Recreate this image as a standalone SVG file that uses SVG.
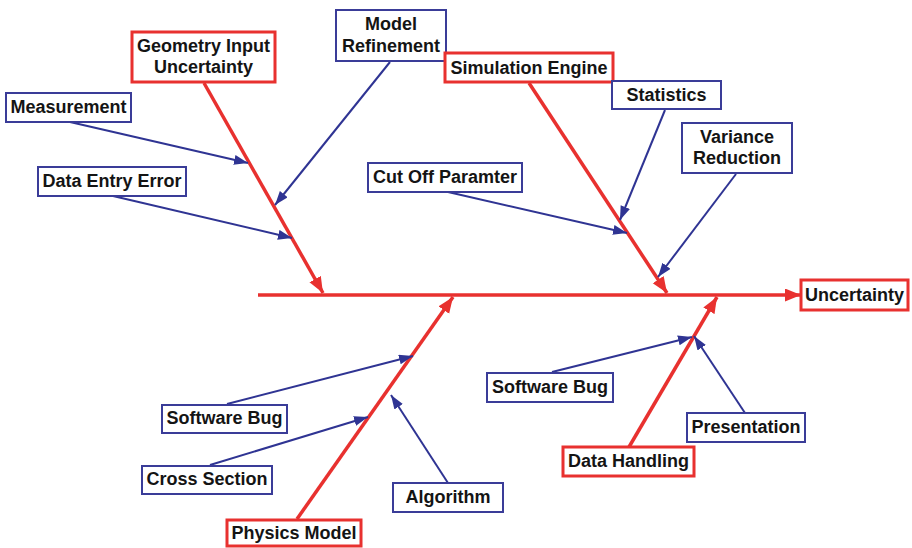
<svg xmlns="http://www.w3.org/2000/svg" width="912" height="548" viewBox="0 0 912 548">
<style>
.rbox{fill:#fff;stroke:#e8312f;stroke-width:3}
.bbox{fill:#fff;stroke:#3a3c98;stroke-width:2}
text{font-family:"Liberation Sans",Arial,sans-serif;font-weight:bold;font-size:18px;fill:#141414;text-anchor:middle}
.rl{stroke:#e8312f;stroke-width:3.5;fill:none}
.bl{stroke:#2f3493;stroke-width:2;fill:none}
</style>
<defs>
<marker id="ra" markerUnits="userSpaceOnUse" markerWidth="18" markerHeight="14" refX="16" refY="6.5" orient="auto"><path d="M0,0 L16,6.5 L0,13 z" fill="#e8312f"/></marker>
<marker id="ba" markerUnits="userSpaceOnUse" markerWidth="16" markerHeight="12" refX="14" refY="5" orient="auto"><path d="M0,0 L14,5 L0,10 z" fill="#2f3493"/></marker>
</defs>
<rect width="912" height="548" fill="#fff"/>
<g id="connectors">
<line class="rl" x1="258" y1="295" x2="801" y2="295" marker-end="url(#ra)"/>
<line class="rl" x1="204" y1="83" x2="323" y2="293" marker-end="url(#ra)"/>
<line class="rl" x1="529" y1="83" x2="667" y2="293" marker-end="url(#ra)"/>
<line class="rl" x1="297" y1="519" x2="453" y2="297" marker-end="url(#ra)"/>
<line class="rl" x1="629" y1="447" x2="717" y2="297" marker-end="url(#ra)"/>
<line class="bl" x1="70" y1="122" x2="248" y2="163" marker-end="url(#ba)"/>
<line class="bl" x1="390" y1="62" x2="275" y2="205" marker-end="url(#ba)"/>
<line class="bl" x1="113" y1="196" x2="292" y2="238" marker-end="url(#ba)"/>
<line class="bl" x1="448" y1="192" x2="627" y2="233" marker-end="url(#ba)"/>
<line class="bl" x1="665" y1="110" x2="620" y2="220" marker-end="url(#ba)"/>
<line class="bl" x1="736" y1="174" x2="658" y2="277" marker-end="url(#ba)"/>
<line class="bl" x1="227" y1="404" x2="413" y2="356" marker-end="url(#ba)"/>
<line class="bl" x1="210" y1="465" x2="368" y2="417" marker-end="url(#ba)"/>
<line class="bl" x1="448" y1="483" x2="391" y2="395" marker-end="url(#ba)"/>
<line class="bl" x1="552" y1="372" x2="692" y2="337" marker-end="url(#ba)"/>
<line class="bl" x1="745" y1="413" x2="694" y2="336" marker-end="url(#ba)"/>
</g>
<g id="geometry"><rect class="rbox" x="132" y="32" width="143" height="50"/><text x="203.5" y="52">Geometry Input</text><text x="203.5" y="73">Uncertainty</text></g>
<g id="model-refinement"><rect class="bbox" x="336" y="10" width="110" height="51"/><text x="391" y="30">Model</text><text x="391" y="52">Refinement</text></g>
<g id="measurement"><rect class="bbox" x="6" y="93" width="125" height="29"/><text x="68.5" y="113">Measurement</text></g>
<g id="data-entry"><rect class="bbox" x="38" y="167" width="148" height="29"/><text x="112" y="187">Data Entry Error</text></g>
<g id="cut-off"><rect class="bbox" x="368" y="163" width="154" height="29"/><text x="445" y="183">Cut Off Paramter</text></g>
<g id="simulation-engine"><rect class="rbox" x="445" y="53" width="168" height="29"/><text x="529" y="74">Simulation Engine</text></g>
<g id="statistics"><rect class="bbox" x="612" y="81" width="109" height="28"/><text x="666.5" y="101">Statistics</text></g>
<g id="variance"><rect class="bbox" x="682" y="123" width="110" height="50"/><text x="737" y="143">Variance</text><text x="737" y="164">Reduction</text></g>
<g id="uncertainty"><rect class="rbox" x="801" y="280" width="107" height="30"/><text x="854.5" y="301">Uncertainty</text></g>
<g id="software-bug-1"><rect class="bbox" x="162" y="405" width="125" height="28"/><text x="224.5" y="424">Software Bug</text></g>
<g id="cross-section"><rect class="bbox" x="142" y="466" width="130" height="28"/><text x="207" y="485">Cross Section</text></g>
<g id="algorithm"><rect class="bbox" x="393" y="483" width="110" height="29"/><text x="448" y="503">Algorithm</text></g>
<g id="physics-model"><rect class="rbox" x="227" y="520" width="134" height="26"/><text x="294" y="539">Physics Model</text></g>
<g id="software-bug-2"><rect class="bbox" x="487" y="373" width="126" height="29"/><text x="550" y="393">Software Bug</text></g>
<g id="presentation"><rect class="bbox" x="687" y="413" width="118" height="29"/><text x="746" y="433">Presentation</text></g>
<g id="data-handling"><rect class="rbox" x="563" y="447" width="131" height="29"/><text x="628.5" y="467">Data Handling</text></g>
</svg>
